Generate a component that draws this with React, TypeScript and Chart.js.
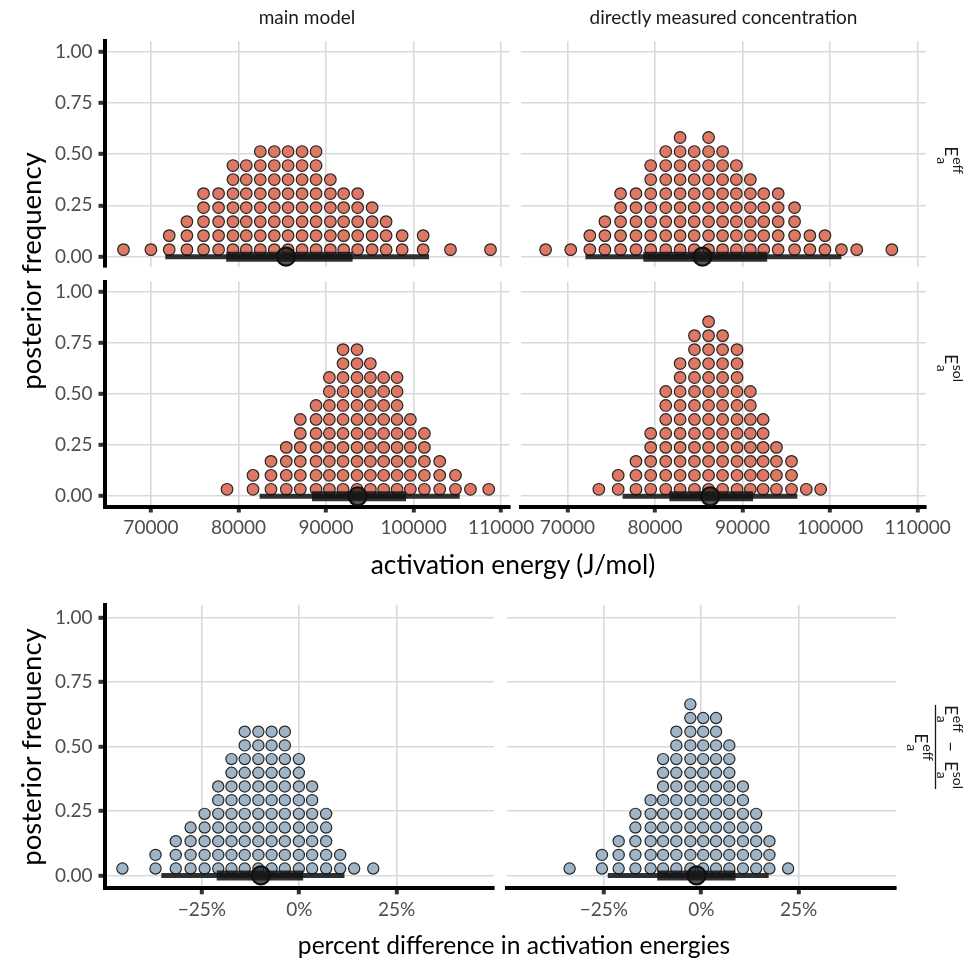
import React, { useEffect, useRef } from "react";
import { Chart, registerables } from "chart.js";

Chart.register(...registerables);

const PAGE_W = 971;
const PAGE_H = 960;

// ---------- axes ----------
const energyTicks = [70000, 80000, 90000, 100000, 110000];
const energyRange = [64700, 110950];
const freqTicks = [0, 0.25, 0.5, 0.75, 1];
const freqRange = [-0.05, 1.05];
const pctTicks = [-0.25, 0, 0.25];
const pctRange = [-0.5, 0.5];

// ---------- posterior draws, binned into dot columns ----------
// intervals: [95% lo, 66% lo, median, 66% hi, 95% hi]

// E_a^eff, main model
const effMainBins = [66870, 70000, 72090, 74110, 76010, 77730, 79370, 80890, 82490, 84090, 85660, 87260, 88860, 90490, 92010, 93610, 95260, 96860, 98690, 101090, 104210, 108780];
const effMainCounts = [1, 1, 2, 3, 5, 5, 7, 7, 8, 8, 8, 8, 8, 6, 5, 5, 4, 3, 2, 2, 1, 1];
const effMainInterval = [71640, 78600, 85430, 93030, 101760];

// E_a^eff, directly measured concentration
const effDirectBins = [67510, 70380, 72560, 74280, 76070, 77830, 79510, 81230, 82870, 84480, 86120, 87720, 89290, 90890, 92420, 94070, 95940, 97690, 99410, 101290, 103040, 107050];
const effDirectCounts = [1, 1, 2, 3, 5, 5, 7, 8, 9, 8, 9, 8, 7, 6, 5, 5, 4, 2, 2, 1, 1, 1];
const effDirectInterval = [72060, 78670, 85430, 92810, 101290];

// E_a^sol, main model
const solMainBins = [78690, 81660, 83710, 85460, 87060, 88860, 90380, 91940, 93540, 95060, 96580, 98110, 99630, 101230, 102980, 104780, 106490, 108580];
const solMainCounts = [1, 2, 3, 4, 6, 7, 9, 11, 11, 10, 9, 9, 6, 5, 3, 2, 1, 1];
const solMainInterval = [82410, 88400, 93610, 99140, 105270];

// E_a^sol, directly measured concentration
const solDirectBins = [73590, 75800, 77830, 79510, 81230, 82870, 84510, 86120, 87720, 89370, 90890, 92350, 93870, 95590, 97280, 98920];
const solDirectCounts = [1, 2, 3, 5, 8, 10, 12, 13, 12, 11, 8, 6, 4, 3, 1, 1];
const solDirectInterval = [76300, 81650, 86310, 91200, 96250];

// relative difference (E_eff - E_sol) / E_eff, main model
const diffMainBins = [-0.454, -0.369, -0.317, -0.279, -0.243, -0.208, -0.174, -0.14, -0.105, -0.071, -0.037, -0.001, 0.033, 0.069, 0.105, 0.141, 0.19];
const diffMainCounts = [1, 2, 3, 4, 5, 7, 9, 11, 11, 11, 11, 9, 7, 5, 2, 1, 1];
const diffMainInterval = [-0.354, -0.212, -0.0985, 0.01, 0.116];

// relative difference, directly measured concentration
const diffDirectBins = [-0.338, -0.255, -0.212, -0.169, -0.13, -0.098, -0.064, -0.028, 0.005, 0.038, 0.072, 0.107, 0.141, 0.175, 0.223];
const diffDirectCounts = [1, 2, 3, 5, 6, 9, 11, 13, 12, 12, 10, 7, 5, 3, 1];
const diffDirectInterval = [-0.24, -0.113, -0.012, 0.088, 0.173];

// ---------- styling ----------
const FONT = "Lato, 'Open Sans', sans-serif";
const GRID = "#d9d9d9";
const TICK_TEXT = "#4d4d4d";
const STRIP_TEXT = "#1a1a1a";
const ENERGY_FILL = "#de7865";
const DIFF_FILL = "#9fb5c7";
const DOT_EDGE = "#262626";
const INTERVAL = "rgba(22,22,22,0.88)";

const fmtEnergy = (v: number) => String(v);
const fmtFreq = (v: number) => v.toFixed(2);
const fmtPct = (v: number) => {
  const p = Math.round(v * 100);
  return (p < 0 ? "\u2212" : "") + Math.abs(p) + "%";
};

type Panel = {
  bins: number[];
  counts: number[];
  interval: number[];
  box: [number, number, number, number];
  xTicks: number[];
  xRange: number[];
  xFmt: (v: number) => string;
  showY: boolean;
  showX: boolean;
  fill: string;
  step: number;
  radius: number;
};

// panel rectangles: [left, top, right, bottom]
const TOP_ROW = [41.2, 266.9];
const MID_ROW = [281.5, 506.5];
const BOT_ROW = [604.8, 888.3];
const LEFT_COL_E = [104.5, 509.5];
const RIGHT_COL_E = [521, 926];
const LEFT_COL_D = [104.5, 494];
const RIGHT_COL_D = [506.5, 896];

// height of one stacked dot, in frequency units
const ENERGY_STEP = 0.0683;
const DIFF_STEP = 0.0531;

const panels: Panel[] = [
  {
    bins: effMainBins, counts: effMainCounts, interval: effMainInterval,
    box: [LEFT_COL_E[0], TOP_ROW[0], LEFT_COL_E[1], TOP_ROW[1]],
    xTicks: energyTicks, xRange: energyRange, xFmt: fmtEnergy,
    showY: true, showX: false, fill: ENERGY_FILL, step: ENERGY_STEP, radius: 5.8,
  },
  {
    bins: effDirectBins, counts: effDirectCounts, interval: effDirectInterval,
    box: [RIGHT_COL_E[0], TOP_ROW[0], RIGHT_COL_E[1], TOP_ROW[1]],
    xTicks: energyTicks, xRange: energyRange, xFmt: fmtEnergy,
    showY: false, showX: false, fill: ENERGY_FILL, step: ENERGY_STEP, radius: 5.8,
  },
  {
    bins: solMainBins, counts: solMainCounts, interval: solMainInterval,
    box: [LEFT_COL_E[0], MID_ROW[0], LEFT_COL_E[1], MID_ROW[1]],
    xTicks: energyTicks, xRange: energyRange, xFmt: fmtEnergy,
    showY: true, showX: true, fill: ENERGY_FILL, step: ENERGY_STEP, radius: 5.8,
  },
  {
    bins: solDirectBins, counts: solDirectCounts, interval: solDirectInterval,
    box: [RIGHT_COL_E[0], MID_ROW[0], RIGHT_COL_E[1], MID_ROW[1]],
    xTicks: energyTicks, xRange: energyRange, xFmt: fmtEnergy,
    showY: false, showX: true, fill: ENERGY_FILL, step: ENERGY_STEP, radius: 5.8,
  },
  {
    bins: diffMainBins, counts: diffMainCounts, interval: diffMainInterval,
    box: [LEFT_COL_D[0], BOT_ROW[0], LEFT_COL_D[1], BOT_ROW[1]],
    xTicks: pctTicks, xRange: pctRange, xFmt: fmtPct,
    showY: true, showX: true, fill: DIFF_FILL, step: DIFF_STEP, radius: 5.6,
  },
  {
    bins: diffDirectBins, counts: diffDirectCounts, interval: diffDirectInterval,
    box: [RIGHT_COL_D[0], BOT_ROW[0], RIGHT_COL_D[1], BOT_ROW[1]],
    xTicks: pctTicks, xRange: pctRange, xFmt: fmtPct,
    showY: false, showX: true, fill: DIFF_FILL, step: DIFF_STEP, radius: 5.6,
  },
];

const Y_AXIS_W = 70;
const X_AXIS_H = 44;

function buildChart(canvas: HTMLCanvasElement, p: Panel) {
  // stack one dot per draw in each bin column
  const dots: { x: number; y: number }[] = [];
  p.bins.forEach((x, i) => {
    for (let k = 0; k < p.counts[i]; k++) dots.push({ x, y: (k + 0.5) * p.step });
  });
  const [outerLo, innerLo, median, innerHi, outerHi] = p.interval;
  const [left, top, right, bottom] = p.box;
  const yw = p.showY ? Y_AXIS_W : 0;
  const xh = p.showX ? X_AXIS_H : 0;
  const tickFont = { family: FONT, size: 19 };

  return new Chart(canvas, {
    type: "scatter",
    data: {
      datasets: [
        {
          data: [{ x: median, y: 0 }],
          order: 0,
          pointRadius: 9,
          pointBackgroundColor: "rgba(25,25,25,0.72)",
          pointBorderColor: "#111",
          pointBorderWidth: 2.2,
        },
        {
          data: [{ x: innerLo, y: 0 }, { x: innerHi, y: 0 }],
          order: 1,
          showLine: true,
          borderColor: INTERVAL,
          borderWidth: 10,
          borderCapStyle: "butt",
          pointRadius: 0,
        },
        {
          data: [{ x: outerLo, y: 0 }, { x: outerHi, y: 0 }],
          order: 2,
          showLine: true,
          borderColor: INTERVAL,
          borderWidth: 5,
          borderCapStyle: "butt",
          pointRadius: 0,
        },
        {
          data: dots,
          order: 3,
          pointRadius: p.radius,
          pointBackgroundColor: p.fill,
          pointBorderColor: DOT_EDGE,
          pointBorderWidth: 1.2,
        },
      ],
    } as any,
    options: {
      responsive: false,
      animation: false,
      devicePixelRatio: 1,
      events: [],
      layout: {
        padding: { left: left - yw, top, right: PAGE_W - right, bottom: PAGE_H - bottom - xh },
      },
      plugins: { legend: { display: false }, tooltip: { enabled: false } },
      scales: {
        x: {
          type: "linear",
          min: p.xRange[0],
          max: p.xRange[1],
          afterBuildTicks: (s: any) => {
            s.ticks = p.xTicks.map((v) => ({ value: v }));
          },
          afterFit: (s: any) => {
            s.height = xh;
          },
          grid: {
            color: GRID,
            lineWidth: 1.6,
            drawTicks: p.showX,
            tickLength: 6,
            tickWidth: 4,
            tickColor: "#333",
          },
          border: { display: p.showX, color: "#000", width: 4 },
          ticks: {
            display: p.showX,
            autoSkip: false,
            maxRotation: 0,
            padding: 4,
            color: TICK_TEXT,
            font: tickFont,
            callback: (v: any) => p.xFmt(Number(v)),
          },
        },
        y: {
          type: "linear",
          min: freqRange[0],
          max: freqRange[1],
          afterBuildTicks: (s: any) => {
            s.ticks = freqTicks.map((v) => ({ value: v }));
          },
          afterFit: (s: any) => {
            s.width = yw;
          },
          grid: {
            color: GRID,
            lineWidth: 1.6,
            drawTicks: p.showY,
            tickLength: 6,
            tickWidth: 4,
            tickColor: "#333",
          },
          border: { display: p.showY, color: "#000", width: 4 },
          ticks: {
            display: p.showY,
            padding: 6,
            color: TICK_TEXT,
            font: tickFont,
            callback: (v: any) => fmtFreq(Number(v)),
          },
        },
      },
    } as any,
  });
}

function PanelCanvas({ panel }: { panel: Panel }) {
  const ref = useRef<HTMLCanvasElement | null>(null);
  useEffect(() => {
    if (!ref.current) return;
    const chart = buildChart(ref.current, panel);
    return () => chart.destroy();
  }, [panel]);
  return (
    <canvas
      ref={ref}
      width={PAGE_W}
      height={PAGE_H}
      style={{ position: "absolute", left: 0, top: 0, width: PAGE_W, height: PAGE_H }}
    />
  );
}

// ---------- facet strip math labels (E with subscript a and a superscript) ----------
const E_SIZE = 18;
const SCRIPT_SIZE = 14;
const SUP_RAISE = 8;
const SUB_DROP = 8;

let measureCtx: CanvasRenderingContext2D | null = null;
function textWidth(s: string, size: number) {
  if (!measureCtx) measureCtx = document.createElement("canvas").getContext("2d");
  measureCtx!.font = `${size}px Lato`;
  return measureCtx!.measureText(s).width;
}

function eaWidth(sup: string) {
  return textWidth("E", E_SIZE) + 0.5 + Math.max(textWidth(sup, SCRIPT_SIZE), textWidth("a", SCRIPT_SIZE));
}

function eaNodes(x: number, y: number, sup: string, key: string) {
  const ew = textWidth("E", E_SIZE) + 0.5;
  return [
    <text key={key + "E"} x={x} y={y} fontSize={E_SIZE}>E</text>,
    <text key={key + "sup"} x={x + ew} y={y - SUP_RAISE} fontSize={SCRIPT_SIZE}>{sup}</text>,
    <text key={key + "sub"} x={x + ew} y={y + SUB_DROP} fontSize={SCRIPT_SIZE}>a</text>,
  ];
}

function RowStrip({ cx, cy, sup }: { cx: number; cy: number; sup: string }) {
  const w = eaWidth(sup);
  return (
    <g transform={`translate(${cx},${cy}) rotate(90)`}>{eaNodes(-w / 2, 0, sup, sup)}</g>
  );
}

function FractionStrip({ cx, cy }: { cx: number; cy: number }) {
  const gap = 9;
  const wEff = eaWidth("eff");
  const wSol = eaWidth("sol");
  const wMinus = textWidth("\u2212", E_SIZE);
  const wNum = wEff + gap + wMinus + gap + wSol;
  const x0 = -wNum / 2;
  return (
    <g transform={`translate(${cx},${cy}) rotate(90)`}>
      {eaNodes(x0, -9.5, "eff", "n1")}
      <text x={x0 + wEff + gap} y={-9.5} fontSize={E_SIZE}>{"\u2212"}</text>
      {eaNodes(x0 + wEff + gap + wMinus + gap, -9.5, "sol", "n2")}
      <line x1={-wNum / 2} x2={wNum / 2} y1={0} y2={0} stroke={STRIP_TEXT} strokeWidth={1.3} />
      {eaNodes(-wEff / 2, 20.5, "eff", "d")}
    </g>
  );
}

function Label({
  x, y, rotate = 0, size, color = STRIP_TEXT, children,
}: {
  x: number; y: number; rotate?: number; size: number; color?: string; children: React.ReactNode;
}) {
  return (
    <div
      style={{
        position: "absolute",
        left: x,
        top: y,
        transform: `translate(-50%, -50%) rotate(${rotate}deg)`,
        fontFamily: FONT,
        fontSize: size,
        color,
        whiteSpace: "nowrap",
        lineHeight: 1.2,
      }}
    >
      {children}
    </div>
  );
}

export default function App() {
  return (
    <div
      style={{
        position: "absolute",
        left: 0,
        top: 0,
        width: PAGE_W,
        height: PAGE_H,
        background: "#fff",
        overflow: "hidden",
      }}
    >
      {panels.map((p, i) => (
        <PanelCanvas key={i} panel={p} />
      ))}

      {/* column strips */}
      <Label x={307} y={17} size={19}>main model</Label>
      <Label x={723.5} y={17} size={19}>directly measured concentration</Label>

      {/* row strips */}
      <svg
        width={PAGE_W}
        height={PAGE_H}
        style={{ position: "absolute", left: 0, top: 0 }}
        fontFamily="Lato"
        fill={STRIP_TEXT}
      >
        <RowStrip cx={945} cy={160} sup="eff" />
        <RowStrip cx={945} cy={368} sup="sol" />
        <FractionStrip cx={935.5} cy={747} />
      </svg>

      {/* axis titles */}
      <Label x={30} y={271} size={27.5} rotate={-90} color="#000">posterior frequency</Label>
      <Label x={513} y={565} size={26.3} color="#000">activation energy (J/mol)</Label>
      <Label x={30} y={747} size={27.5} rotate={-90} color="#000">posterior frequency</Label>
      <Label x={514} y={945} size={24.6} color="#000">percent difference in activation energies</Label>
    </div>
  );
}
